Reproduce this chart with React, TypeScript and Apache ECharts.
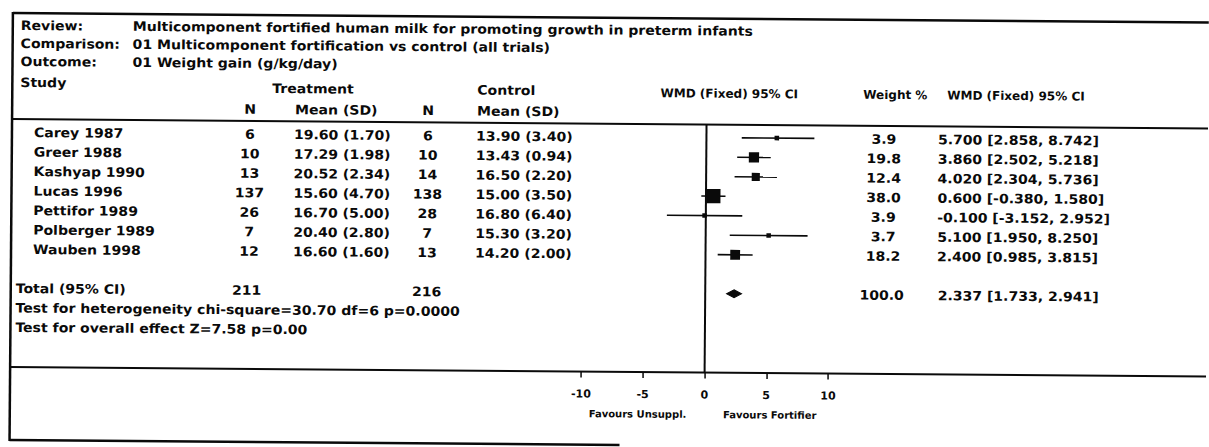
import React, { useEffect, useRef } from "react";
import * as echarts from "echarts";

// ---------------- data ----------------
const headerLabels = ["Review:", "Comparison:", "Outcome:"];
const headerValues = [
  "Multicomponent fortified human milk for promoting growth in preterm infants",
  "01 Multicomponent fortification vs control (all trials)",
  "01 Weight gain (g/kg/day)",
];
const studies = ["Carey 1987", "Greer 1988", "Kashyap 1990", "Lucas 1996", "Pettifor 1989", "Polberger 1989", "Wauben 1998"];
const trtN = [6, 10, 13, 137, 26, 7, 12];
const trtMeanSD = ["19.60 (1.70)", "17.29 (1.98)", "20.52 (2.34)", "15.60 (4.70)", "16.70 (5.00)", "20.40 (2.80)", "16.60 (1.60)"];
const ctrlN = [6, 10, 14, 138, 28, 7, 13];
const ctrlMeanSD = ["13.90 (3.40)", "13.43 (0.94)", "16.50 (2.20)", "15.00 (3.50)", "16.80 (6.40)", "15.30 (3.20)", "14.20 (2.00)"];
const weights = [3.9, 19.8, 12.4, 38.0, 3.9, 3.7, 18.2];
const wmd = [5.7, 3.86, 4.02, 0.6, -0.1, 5.1, 2.4];
const ciLow = [2.858, 2.502, 2.304, -0.38, -3.152, 1.95, 0.985];
const ciHigh = [8.742, 5.218, 5.736, 1.58, 2.952, 8.25, 3.815];
const totalTrtN = 211;
const totalCtrlN = 216;
const totalWeight = 100.0;
const totalWmd = 2.337;
const totalLow = 1.733;
const totalHigh = 2.941;
const totalRow = 8;
const heterogeneityText = "Test for heterogeneity chi-square=30.70 df=6 p=0.0000";
const overallText = "Test for overall effect Z=7.58 p=0.00";
const axisMin = -10;
const axisMax = 10;
const axisStep = 5;
const favourLeft = "Favours Unsuppl.";
const favourRight = "Favours Fortifier";

// ---------------- styles ----------------
const INK = "#0a0a0a";
const FONT = '"DejaVu Sans", "Liberation Sans", sans-serif';
const ROT = 0.45;
const STRETCH = 1.08;

function fmt(v: number) {
  return v.toFixed(3);
}

export default function App() {
  const ref = useRef<HTMLDivElement | null>(null);

  useEffect(() => {
    if (!ref.current) return;
    const chart = echarts.init(ref.current, undefined, { renderer: "svg" });

    const forestData: any[] = studies.map((_, i) => [0, i, ciLow[i], wmd[i], ciHigh[i], weights[i]]);
    forestData.push([1, totalRow, totalLow, totalWmd, totalHigh, totalWeight]);

    chart.setOption({
      animation: false,
      backgroundColor: "#ffffff",
      grid: { left: 584, right: 378, top: 119, height: 248 },
      xAxis: {
        type: "value",
        position: "bottom",
        min: axisMin,
        max: axisMax,
        interval: axisStep,
        axisLine: { show: true, onZero: false, lineStyle: { color: "rgba(0,0,0,0)", width: 1 } },
        splitLine: { show: false },
        axisTick: { show: true, length: 6, lineStyle: { color: INK, width: 1.5 } },
        axisLabel: {
          color: INK,
          fontFamily: FONT,
          fontWeight: "bold",
          fontSize: 11,
          margin: 17,
        },
      },
      yAxis: {
        type: "value",
        inverse: true,
        min: -0.667,
        max: 12.05,
        show: false,
      },
      series: [
        {
          type: "line",
          data: [
            [0, -0.667],
            [0, 12.05],
          ],
          symbol: "none",
          lineStyle: { color: INK, width: 2 },
          silent: true,
        },
        {
          type: "custom",
          data: forestData,
          encode: { x: [2, 3, 4], y: 1 },
          silent: true,
          renderItem: (params: any, api: any) => {
            const kind = api.value(0);
            const row = api.value(1);
            const lo = api.value(2);
            const est = api.value(3);
            const hi = api.value(4);
            const w = api.value(5);
            const pLo = api.coord([lo, row]);
            const pHi = api.coord([hi, row]);
            const pEst = api.coord([est, row]);
            if (kind === 1) {
              const hh = 4;
              return {
                type: "polygon",
                shape: {
                  points: [
                    [pLo[0], pEst[1]],
                    [pEst[0], pEst[1] - hh],
                    [pHi[0], pEst[1]],
                    [pEst[0], pEst[1] + hh],
                  ],
                },
                style: { fill: INK, stroke: INK, lineWidth: 1 },
              };
            }
            const size = Math.max(4.5, 2.3 * Math.sqrt(w));
            return {
              type: "group",
              children: [
                {
                  type: "line",
                  shape: { x1: pLo[0], y1: pLo[1], x2: pHi[0], y2: pHi[1] },
                  style: { stroke: INK, lineWidth: 1.6 },
                },
                {
                  type: "rect",
                  shape: { x: pEst[0] - size / 2, y: pEst[1] - size / 2, width: size, height: size },
                  style: { fill: INK },
                },
              ],
            };
          },
        },
      ],
    });

    const rowY = (i: number) => (chart.convertToPixel({ gridIndex: 0 }, [0, i]) as number[])[1];
    const axisX = (v: number) => (chart.convertToPixel({ gridIndex: 0 }, [v, 0]) as number[])[0];

    const txt = (text: string, x: number, y: number, size = 13, align = "left", sx = STRETCH) => ({
      type: "text",
      x,
      y,
      scaleX: sx,
      silent: true,
      style: {
        text,
        fill: INK,
        font: `bold ${size}px ${FONT}`,
        textAlign: align,
        textVerticalAlign: "middle",
      },
    });
    const ln = (x1: number, y1: number, x2: number, y2: number, w = 2) => ({
      type: "line",
      silent: true,
      shape: { x1, y1, x2, y2 },
      style: { stroke: INK, lineWidth: w },
    });

    const elements: any[] = [];
    // frame lines
    elements.push(ln(13, 13, 1209, 13, 2.5));
    elements.push(ln(13, 12, 13, 441, 2.5));
    elements.push(ln(13, 119, 1209, 119, 2));
    elements.push(ln(13, 367, 1209, 367, 2));
    elements.push(ln(13, 440, 623, 440, 2.5));

    // header block
    const headerYs = [25, 43, 61];
    headerLabels.forEach((l, i) => {
      elements.push(txt(l, 21, headerYs[i]));
      elements.push(txt(headerValues[i], 133, headerYs[i]));
    });
    elements.push(txt("Study", 21, 82));
    elements.push(txt("Treatment", 273, 86));
    elements.push(txt("Control", 478, 86));
    elements.push(txt("N", 251, 107, 13, "center"));
    elements.push(txt("Mean (SD)", 296, 107));
    elements.push(txt("N", 429, 107, 13, "center"));
    elements.push(txt("Mean (SD)", 478, 107));
    elements.push(txt("WMD (Fixed) 95% CI", 730, 88, 12, "center", 1));
    elements.push(txt("Weight %", 864, 88, 12, "left", 1));
    elements.push(txt("WMD (Fixed) 95% CI", 948, 88, 12, "left", 1));

    // study rows
    studies.forEach((s, i) => {
      const y = rowY(i);
      elements.push(txt(s, 35, y));
      elements.push(txt(String(trtN[i]), 251, y, 13, "center"));
      elements.push(txt(trtMeanSD[i], 295, y));
      elements.push(txt(String(ctrlN[i]), 429, y, 13, "center"));
      elements.push(txt(ctrlMeanSD[i], 477, y));
      elements.push(txt(weights[i].toFixed(1), 885, y, 13, "center"));
      elements.push(txt(`${fmt(wmd[i])} [${fmt(ciLow[i])}, ${fmt(ciHigh[i])}]`, 939, y));
    });

    // total & tests
    const ty = rowY(totalRow);
    elements.push(txt("Total (95% CI)", 18, ty));
    elements.push(txt(String(totalTrtN), 249, ty, 13, "center"));
    elements.push(txt(String(totalCtrlN), 429, ty, 13, "center"));
    elements.push(txt(totalWeight.toFixed(1), 884, ty, 13, "center"));
    elements.push(txt(`${fmt(totalWmd)} [${fmt(totalLow)}, ${fmt(totalHigh)}]`, 940, ty));
    elements.push(txt(heterogeneityText, 18, rowY(totalRow + 1)));
    elements.push(txt(overallText, 18, rowY(totalRow + 2)));

    // favours labels
    elements.push(txt(favourLeft, axisX(-5.4), 409, 10, "center", 1));
    elements.push(txt(favourRight, axisX(5.3), 409, 10, "center", 1));

    chart.setOption({ graphic: { elements } });

    return () => {
      chart.dispose();
    };
  }, []);

  return (
    <div
      ref={ref}
      style={{
        position: "absolute",
        left: 0,
        top: 0,
        width: 1209,
        height: 447,
        background: "#ffffff",
        transform: `rotate(${ROT}deg)`,
        transformOrigin: "0 0",
      }}
    />
  );
}
